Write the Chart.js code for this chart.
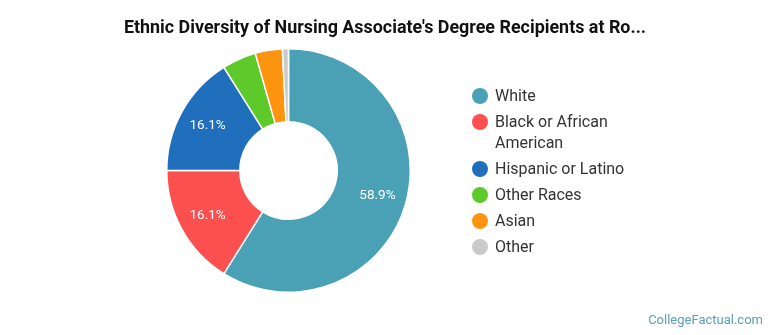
<!DOCTYPE html>
<html>
<head>
<meta charset="utf-8">
<script src="https://cdn.jsdelivr.net/npm/chart.js@4/dist/chart.umd.min.js"></script>
<style>
  html, body { margin: 0; padding: 0; background: #fff; }
  #wrap { position: relative; width: 770px; height: 335px; overflow: hidden; font-family: Roboto, "Open Sans", sans-serif; }
  #chart { position: absolute; left: 0; top: 0; }
  #title { position: absolute; left: 0; width: 770px; top: 17px; text-align: center; font-weight: bold; font-size: 17.9px; line-height: 20px; color: #111; }
  #legend { position: absolute; left: 472px; top: 85px; display: flex; flex-direction: column; gap: 5px; }
  .item { display: flex; align-items: flex-start; font-size: 16px; line-height: 21px; color: #333; }
  .dot { width: 16px; height: 16px; border-radius: 50%; margin-top: 2.5px; margin-right: 7px; flex: none; }
  .txt { width: 140px; }
  #credit { position: absolute; right: 7px; top: 312px; font-size: 13px; color: #5a9fb6; }
</style>
</head>
<body>
<div id="wrap">
  <canvas id="chart" width="770" height="335"></canvas>
  <div id="title"></div>
  <div id="legend"></div>
  <div id="credit">CollegeFactual.com</div>
</div>
<script>
const titleText = "Ethnic Diversity of Nursing Associate's Degree Recipients at Ro...";
const categories = ["White", "Black or African American", "Hispanic or Latino", "Other Races", "Asian", "Other"];
const percentages = [58.9, 16.1, 16.1, 4.5, 3.6, 0.8];
const sliceColors = ["#4aa0b5", "#fc5050", "#1f6fbd", "#5dc92a", "#fd9410", "#cacaca"];
const labelThreshold = 10;

document.getElementById('title').textContent = titleText;

const legendEl = document.getElementById('legend');
categories.forEach((c, i) => {
  const item = document.createElement('div');
  item.className = 'item';
  const dot = document.createElement('span');
  dot.className = 'dot';
  dot.style.background = sliceColors[i];
  const t = document.createElement('span');
  t.className = 'txt';
  t.textContent = c;
  item.appendChild(dot);
  item.appendChild(t);
  legendEl.appendChild(item);
});

const sliceLabels = {
  id: 'sliceLabels',
  afterDatasetsDraw(chart) {
    const ctx = chart.ctx;
    const meta = chart.getDatasetMeta(0);
    ctx.save();
    ctx.fillStyle = '#ffffff';
    ctx.font = '13.5px Roboto, sans-serif';
    ctx.textAlign = 'center';
    ctx.textBaseline = 'middle';
    meta.data.forEach((arc, i) => {
      const v = percentages[i];
      if (v < labelThreshold) return;
      const p = arc.getProps(['x', 'y', 'startAngle', 'endAngle', 'innerRadius', 'outerRadius'], true);
      const mid = (p.startAngle + p.endAngle) / 2;
      const r = p.innerRadius + (p.outerRadius - p.innerRadius) * 0.6;
      ctx.fillText(v.toFixed(1) + '%', p.x + Math.cos(mid) * r, p.y + Math.sin(mid) * r);
    });
    ctx.restore();
  }
};

new Chart(document.getElementById('chart'), {
  type: 'doughnut',
  data: {
    labels: categories,
    datasets: [{
      data: percentages,
      backgroundColor: sliceColors,
      borderColor: '#ffffff',
      borderWidth: 1.5,
      hoverOffset: 0
    }]
  },
  options: {
    responsive: false,
    animation: false,
    cutout: '40%',
    layout: { padding: { left: 166, top: 48, right: 359, bottom: 42 } },
    plugins: {
      legend: { display: false },
      title: { display: false },
      tooltip: { enabled: false }
    }
  },
  plugins: [sliceLabels]
});
</script>
</body>
</html>
